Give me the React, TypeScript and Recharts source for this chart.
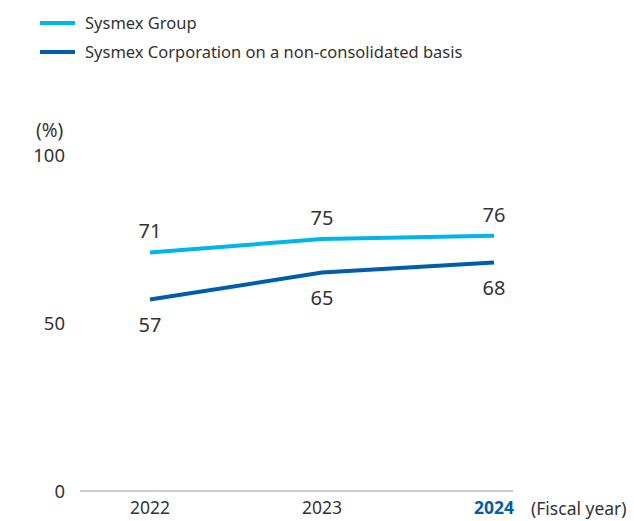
import React from "react";
import { LineChart, Line, XAxis, YAxis, LabelList } from "recharts";

const years = ["2022", "2023", "2024"];
const groupValues = [71, 75, 76];
const corpValues = [57, 65, 68];
const yTicks = [0, 50, 100];
const seriesNames = ["Sysmex Group", "Sysmex Corporation on a non-consolidated basis"];

const data = years.map((y, i) => ({ year: y, group: groupValues[i], corp: corpValues[i] }));

const LIGHT = "#00b5eb";
const DARK = "#005dab";
const TEXT = "#333333";
const FONT = "'Noto Sans', sans-serif";

const XTick = (props: any) => {
  const { x, y, payload, index } = props;
  const last = index === years.length - 1;
  return (
    <text x={x} y={y} dy="0.71em" textAnchor="middle" fontSize={17.5}
      fontFamily={FONT} fill={last ? DARK : TEXT} fontWeight={last ? 700 : 400}>
      {payload.value}
    </text>
  );
};

const LegendBlock = () => (
  <div style={{ position: "absolute", left: 40, top: 8, fontFamily: FONT, fontSize: 16.5, color: TEXT }}>
    {[LIGHT, DARK].map((c, i) => (
      <div key={i} style={{ display: "flex", alignItems: "center", height: 29 }}>
        <div style={{ width: 35, height: 4, background: c, marginRight: 10 }} />
        <span>{seriesNames[i]}</span>
      </div>
    ))}
  </div>
);

export default function App() {
  return (
    <div style={{ position: "relative", width: 634, height: 521, background: "#fff" }}>
      <style>{"html,body{margin:0;padding:0;}"}</style>
      <LineChart width={634} height={521} data={data}
        margin={{ top: 155, right: 121, bottom: 0, left: 0 }}>
        <XAxis dataKey="year" height={30} stroke="#999" tickLine={false} tick={<XTick />}
          tickSize={6} tickMargin={5} padding={{ left: 70, right: 19 }} />
        <YAxis width={80} domain={[0, 100]} ticks={yTicks} axisLine={false} tickLine={false}
          tickMargin={9} tick={{ fontSize: 18.5, fill: TEXT, fontFamily: FONT }} />
        <Line dataKey="group" stroke={LIGHT} strokeWidth={4} dot={false} isAnimationActive={false}>
          <LabelList dataKey="group" position="top" offset={14} fill={TEXT} fontSize={20} fontFamily={FONT} />
        </Line>
        <Line dataKey="corp" stroke={DARK} strokeWidth={4} dot={false} isAnimationActive={false}>
          <LabelList dataKey="corp" position="bottom" offset={18} fill={TEXT} fontSize={20} fontFamily={FONT} />
        </Line>
      </LineChart>
      <LegendBlock />
      <div style={{ position: "absolute", left: 36, top: 117, fontFamily: FONT, fontSize: 19, color: TEXT }}>(%)</div>
      <div style={{ position: "absolute", left: 531, top: 496, fontFamily: FONT, fontSize: 17.5, color: TEXT }}>(Fiscal year)</div>
    </div>
  );
}
